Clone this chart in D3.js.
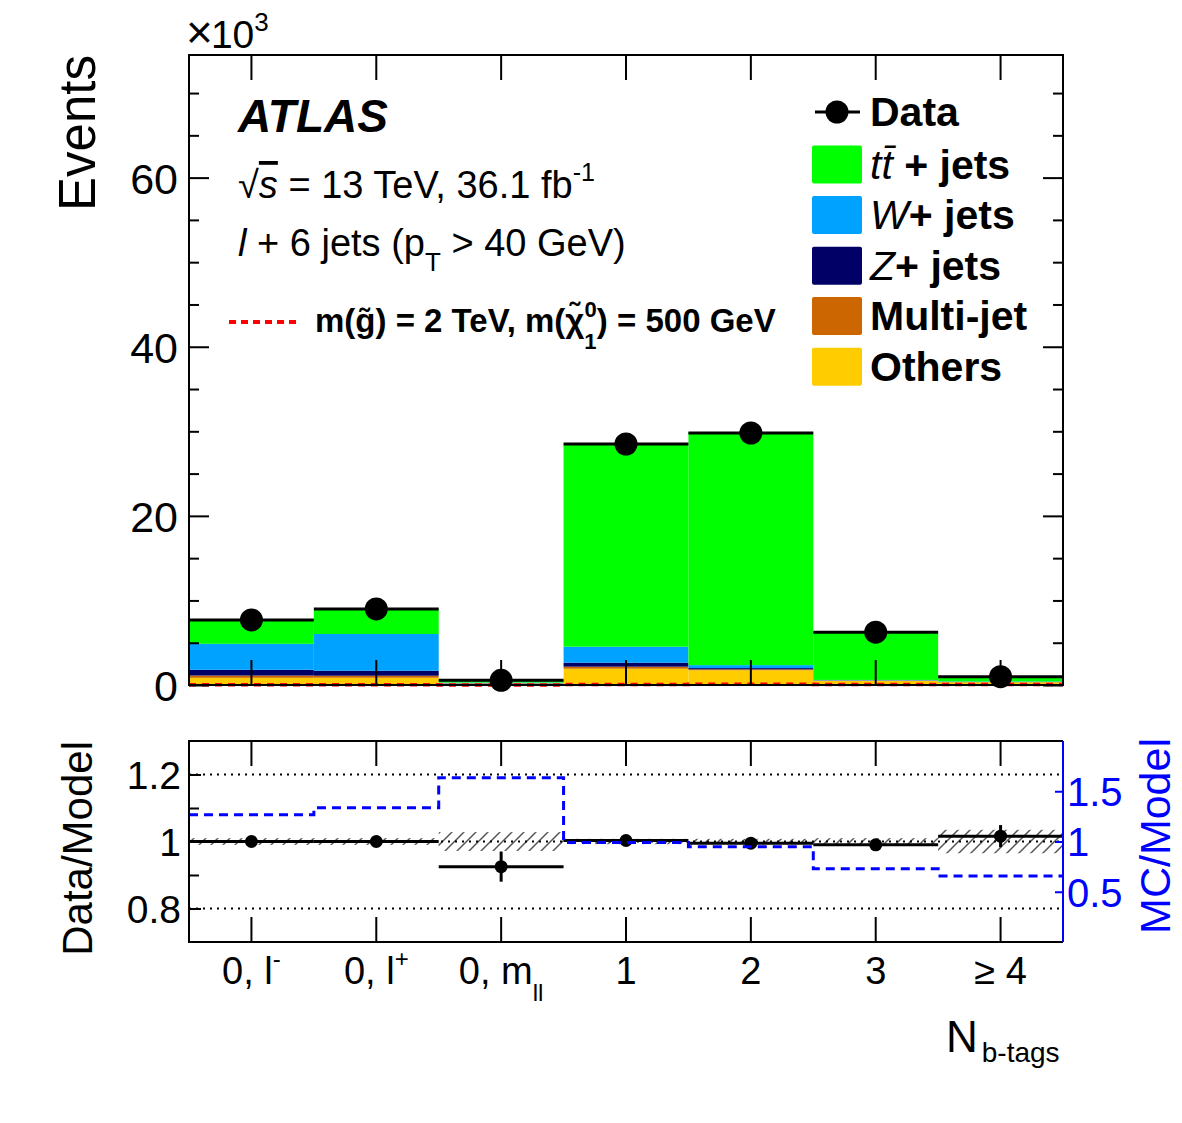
<!DOCTYPE html>
<html>
<head>
<meta charset="utf-8">
<script src="https://cdn.jsdelivr.net/npm/d3@7"></script>
<style>
  body { margin: 0; background: #fff; }
  svg text { font-family: "Liberation Sans", Arial, Helvetica, sans-serif; }
</style>
</head>
<body>
<svg id="chart"></svg>
<script>
// N b-tag bins
var bins = [0, 1, 2, 3, 4, 5, 6];
var binMain = ["0, l", "0, l", "0, m", "1", "2", "3", "\u2265 4"];
var binSup  = ["-", "+", "", "", "", "", ""];
var binSub  = ["", "", "ll", "", "", "", ""];

// stacked backgrounds, x10^3 events
var ttbar    = [2.85, 2.92, 0.30, 23.97, 27.55, 5.70, 0.55];
var wjets    = [3.07, 4.34, 0.08, 1.89, 0.35, 0.05, 0.05];
var zjets    = [0.68, 0.59, 0.02, 0.47, 0.15, 0.02, 0.02];
var multijet = [0.27, 0.24, 0.04, 0.24, 0.10, 0.03, 0.03];
var others   = [0.85, 0.86, 0.15, 1.93, 1.75, 0.50, 0.32];
var dataEv   = [7.69, 9.00, 0.55, 28.50, 29.80, 6.25, 0.99];
var signal   = [0.02, 0.02, 0.01, 0.05, 0.08, 0.07, 0.05];

// lower panel
var ratio    = [1.000, 1.000, 0.925, 1.003, 0.995, 0.990, 1.016];
var ratioErr = [0.004, 0.004, 0.045, 0.003, 0.003, 0.006, 0.033];
var systBand = [0.010, 0.010, 0.028, 0.008, 0.008, 0.010, 0.035];
var mcModel  = [1.265, 1.335, 1.635, 0.990, 0.948, 0.729, 0.657];

var mainTicks  = [0, 20, 40, 60];
var ratioTicks = [0.8, 1, 1.2];
var mcTicks    = [0.5, 1, 1.5];

var keys   = ["others", "multijet", "zjets", "wjets", "ttbar"];
var colors = {ttbar: "#00ff00", wjets: "#00a2ff", zjets: "#000066", multijet: "#cc6600", others: "#ffcc00"};

var W = 1182, H = 1123;
var left = 189, right = 1063;
var svg = d3.select("#chart").attr("width", W).attr("height", H);

var x = d3.scaleBand().domain(bins).range([left, right]).padding(0);
var bw = x.bandwidth();
var y = d3.scaleLinear().domain([0, 74.5]).range([685, 55]);
var yr = d3.scaleLinear().domain([0.7, 1.3]).range([942, 741]);
var ym = d3.scaleLinear().domain([0, 2]).range([942, 741]);

// hatch pattern
var defs = svg.append("defs");
defs.append("pattern").attr("id", "hatch").attr("patternUnits", "userSpaceOnUse")
  .attr("width", 12).attr("height", 12)
  .append("path").attr("d", "M-3,3 L3,-3 M0,12 L12,0 M9,15 L15,9")
  .attr("stroke", "#555").attr("stroke-width", 1.5);

// ---------- main panel ----------
var rows = bins.map(function(i) {
  return {i: i, ttbar: ttbar[i], wjets: wjets[i], zjets: zjets[i], multijet: multijet[i], others: others[i]};
});
var stack = d3.stack().keys(keys)(rows);

svg.append("g").selectAll("g").data(stack).enter().append("g")
  .attr("fill", function(d) { return colors[d.key]; })
  .selectAll("rect").data(function(d) { return d; }).enter().append("rect")
  .attr("x", function(d) { return x(d.data.i); })
  .attr("width", bw)
  .attr("y", function(d) { return y(d[1]); })
  .attr("height", function(d) { return y(d[0]) - y(d[1]); });

// signal step line
function stepPts(vals) {
  var p = bins.map(function(i) { return [x(i), vals[i]]; });
  p.push([right, vals[vals.length - 1]]);
  return p;
}
svg.append("path")
  .attr("d", d3.line().x(function(d) { return d[0]; }).y(function(d) { return y(d[1]); }).curve(d3.curveStepAfter)(stepPts(signal)))
  .attr("fill", "none").attr("stroke", "#ff0000").attr("stroke-width", 3.5).attr("stroke-dasharray", "7,6");

// axes main
function styleAxis(g) {
  g.select(".domain").remove();
  g.selectAll(".tick line").attr("stroke", "#000").attr("stroke-width", 2);
  g.selectAll("text").attr("fill", "#000");
}
svg.append("g").attr("transform", "translate(" + left + ",0)")
  .call(d3.axisLeft(y).tickValues(d3.range(5, 75, 5).filter(function(v) { return v % 20; })).tickSize(-10).tickFormat(""))
  .call(styleAxis);
svg.append("g").attr("transform", "translate(" + left + ",0)")
  .call(d3.axisLeft(y).tickValues(mainTicks).tickSize(-20).tickPadding(11).tickFormat(d3.format("d")))
  .call(styleAxis)
  .selectAll("text").attr("font-size", 43).attr("dy", "0.36em");
svg.append("g").attr("transform", "translate(" + right + ",0)")
  .call(d3.axisRight(y).tickValues(d3.range(5, 75, 5).filter(function(v) { return v % 20; })).tickSize(-10).tickFormat(""))
  .call(styleAxis);
svg.append("g").attr("transform", "translate(" + right + ",0)")
  .call(d3.axisRight(y).tickValues(mainTicks).tickSize(-20).tickFormat(""))
  .call(styleAxis);
svg.append("g").attr("transform", "translate(0,55)")
  .call(d3.axisTop(x).tickSize(-25).tickFormat("")).call(styleAxis);
svg.append("g").attr("transform", "translate(0,685)")
  .call(d3.axisBottom(x).tickSize(-25).tickFormat("")).call(styleAxis);

// data
svg.append("g").selectAll("line").data(bins).enter().append("line")
  .attr("x1", function(i) { return x(i); }).attr("x2", function(i) { return x(i) + bw; })
  .attr("y1", function(i) { return y(dataEv[i]); }).attr("y2", function(i) { return y(dataEv[i]); })
  .attr("stroke", "#000").attr("stroke-width", 3);
svg.append("g").selectAll("circle").data(bins).enter().append("circle")
  .attr("cx", function(i) { return x(i) + bw / 2; }).attr("cy", function(i) { return y(dataEv[i]); })
  .attr("r", 11.5).attr("fill", "#000");

svg.append("rect").attr("x", left).attr("y", 55).attr("width", right - left).attr("height", 630)
  .attr("fill", "none").attr("stroke", "#000").attr("stroke-width", 2);

// labels main
svg.append("text").attr("transform", "translate(95,55) rotate(-90)")
  .attr("text-anchor", "end").attr("font-size", 51).text("Events");
var e3 = svg.append("text").attr("x", 186).attr("y", 48).attr("font-size", 39);
e3.append("tspan").attr("font-size", 46).text("\u00d7");
e3.append("tspan").attr("dx", -2).text("10");
e3.append("tspan").attr("font-size", 26).attr("dy", -17).text("3");

svg.append("text").attr("x", 238).attr("y", 132).attr("font-size", 46)
  .attr("font-weight", "bold").attr("font-style", "italic").text("ATLAS");

var t1 = svg.append("text").attr("x", 238).attr("y", 198).attr("font-size", 38);
t1.append("tspan").text("\u221a");
t1.append("tspan").attr("font-style", "italic").attr("text-decoration", "overline").text("s");
t1.append("tspan").text(" = 13 TeV, 36.1 fb");
t1.append("tspan").attr("font-size", 25).attr("dy", -17).text("-1");

var t2 = svg.append("text").attr("x", 238).attr("y", 256).attr("font-size", 38);
t2.append("tspan").attr("font-style", "italic").text("l");
t2.append("tspan").text(" + 6 jets (p");
t2.append("tspan").attr("font-size", 26).attr("dy", 15).text("T");
t2.append("tspan").attr("dy", -15).text(" > 40 GeV)");

svg.append("line").attr("x1", 229).attr("x2", 297).attr("y1", 322).attr("y2", 322)
  .attr("stroke", "#ff0000").attr("stroke-width", 4).attr("stroke-dasharray", "7,5");
var t3 = svg.append("text").attr("x", 315).attr("y", 332).attr("font-size", 33).attr("font-weight", "bold");
t3.append("tspan").text("m(g\u0303) = 2 TeV, m(\u03c7\u0303");
t3.append("tspan").attr("font-size", 22).attr("dy", 17).text("1");
t3.append("tspan").attr("font-size", 22).attr("dx", -12).attr("dy", -32).text("0");
t3.append("tspan").attr("dy", 15).text(") = 500 GeV");

// legend
var legY = [112, 164.5, 215, 265.7, 316, 366.7];
svg.append("line").attr("x1", 815).attr("x2", 860).attr("y1", legY[0]).attr("y2", legY[0])
  .attr("stroke", "#000").attr("stroke-width", 3);
svg.append("circle").attr("cx", 837).attr("cy", legY[0]).attr("r", 11.5).attr("fill", "#000");
svg.append("text").attr("x", 870).attr("y", legY[0] + 14).attr("font-size", 41).attr("font-weight", "bold").text("Data");

var legKeys = ["ttbar", "wjets", "zjets", "multijet", "others"];
legKeys.forEach(function(k, j) {
  var cy = legY[j + 1];
  svg.append("rect").attr("x", 812).attr("y", cy - 19).attr("width", 50).attr("height", 38)
    .attr("rx", 2).attr("fill", colors[k]);
});
var l1 = svg.append("text").attr("x", 870).attr("y", legY[1] + 14).attr("font-size", 41);
l1.append("tspan").attr("font-style", "italic").text("tt\u0304");
l1.append("tspan").attr("font-weight", "bold").text(" + jets");
var l2 = svg.append("text").attr("x", 870).attr("y", legY[2] + 14).attr("font-size", 41);
l2.append("tspan").attr("font-style", "italic").text("W");
l2.append("tspan").attr("font-weight", "bold").text("+ jets");
var l3 = svg.append("text").attr("x", 870).attr("y", legY[3] + 14).attr("font-size", 41);
l3.append("tspan").attr("font-style", "italic").text("Z");
l3.append("tspan").attr("font-weight", "bold").text("+ jets");
svg.append("text").attr("x", 870).attr("y", legY[4] + 14).attr("font-size", 41).attr("font-weight", "bold").text("Multi-jet");
svg.append("text").attr("x", 870).attr("y", legY[5] + 14).attr("font-size", 41).attr("font-weight", "bold").text("Others");

// ---------- ratio panel ----------
svg.append("g").selectAll("rect").data(bins).enter().append("rect")
  .attr("x", function(i) { return x(i); }).attr("width", bw)
  .attr("y", function(i) { return yr(1 + systBand[i]); })
  .attr("height", function(i) { return yr(1 - systBand[i]) - yr(1 + systBand[i]); })
  .attr("fill", "url(#hatch)");

svg.append("g").selectAll("line").data(ratioTicks).enter().append("line")
  .attr("x1", left).attr("x2", right)
  .attr("y1", function(d) { return yr(d); }).attr("y2", function(d) { return yr(d); })
  .attr("stroke", "#000").attr("stroke-width", 2).attr("stroke-dasharray", "2,5");

svg.append("g").selectAll("line").data(bins).enter().append("line")
  .attr("x1", function(i) { return x(i); }).attr("x2", function(i) { return x(i) + bw; })
  .attr("y1", function(i) { return yr(ratio[i]); }).attr("y2", function(i) { return yr(ratio[i]); })
  .attr("stroke", "#000").attr("stroke-width", 3);
svg.append("g").selectAll("line").data(bins).enter().append("line")
  .attr("x1", function(i) { return x(i) + bw / 2; }).attr("x2", function(i) { return x(i) + bw / 2; })
  .attr("y1", function(i) { return yr(ratio[i] + ratioErr[i]); }).attr("y2", function(i) { return yr(ratio[i] - ratioErr[i]); })
  .attr("stroke", "#000").attr("stroke-width", 3);
svg.append("g").selectAll("circle").data(bins).enter().append("circle")
  .attr("cx", function(i) { return x(i) + bw / 2; }).attr("cy", function(i) { return yr(ratio[i]); })
  .attr("r", 6.5).attr("fill", "#000");

svg.append("path")
  .attr("d", d3.line().x(function(d) { return d[0]; }).y(function(d) { return ym(d[1]); }).curve(d3.curveStepAfter)(stepPts(mcModel)))
  .attr("fill", "none").attr("stroke", "#0000ff").attr("stroke-width", 3).attr("stroke-dasharray", "9,6");

svg.append("g").attr("transform", "translate(" + left + ",0)")
  .call(d3.axisLeft(yr).tickValues([0.9, 1.1]).tickSize(-10).tickFormat("")).call(styleAxis);
svg.append("g").attr("transform", "translate(" + left + ",0)")
  .call(d3.axisLeft(yr).tickValues(ratioTicks).tickSize(-12).tickPadding(8).tickFormat(function(d) { return d === 1 ? "1" : d3.format(".1f")(d); }))
  .call(styleAxis)
  .selectAll("text").attr("font-size", 39).attr("dy", "0.36em");
svg.append("g").attr("transform", "translate(0,741)")
  .call(d3.axisTop(x).tickSize(-25).tickFormat("")).call(styleAxis);
svg.append("g").attr("transform", "translate(0,942)")
  .call(d3.axisBottom(x).tickSize(-25).tickFormat("")).call(styleAxis);

svg.append("path").attr("d", "M" + right + ",741 H" + left + " V942 H" + right)
  .attr("fill", "none").attr("stroke", "#000").attr("stroke-width", 2);

var gm = svg.append("g").attr("transform", "translate(" + right + ",0)")
  .call(d3.axisRight(ym).tickValues(mcTicks).tickSize(-8).tickPadding(4).tickFormat(function(d) { return d === 1 ? "1" : d3.format(".1f")(d); }));
gm.select(".domain").attr("stroke", "#0000ff").attr("stroke-width", 2).attr("d", "M0,741 V942");
gm.selectAll(".tick line").attr("stroke", "#0000ff").attr("stroke-width", 2);
gm.selectAll("text").attr("fill", "#0000ff").attr("font-size", 40).attr("dy", "0.36em");

svg.append("text").attr("transform", "translate(92,741) rotate(-90)")
  .attr("text-anchor", "end").attr("font-size", 42).text("Data/Model");
svg.append("text").attr("transform", "translate(1170,738) rotate(-90)")
  .attr("text-anchor", "end").attr("font-size", 43).attr("fill", "#0000ff").text("MC/Model");

// x tick labels
var xl = svg.append("g").selectAll("text").data(bins).enter().append("text")
  .attr("x", function(i) { return x(i) + bw / 2; }).attr("y", 984)
  .attr("text-anchor", "middle").attr("font-size", 38);
xl.append("tspan").text(function(i) { return binMain[i]; });
xl.filter(function(i) { return binSup[i]; }).append("tspan")
  .attr("font-size", 24).attr("dy", -17).text(function(i) { return binSup[i]; });
xl.filter(function(i) { return binSub[i]; }).append("tspan")
  .attr("font-size", 24).attr("dy", 17).text(function(i) { return binSub[i]; });

var xt = svg.append("text").attr("x", 946).attr("y", 1052).attr("font-size", 44);
xt.append("tspan").text("N");
xt.append("tspan").attr("font-size", 28).attr("dy", 10).attr("dx", 4).text("b-tags");
</script>
</body>
</html>
